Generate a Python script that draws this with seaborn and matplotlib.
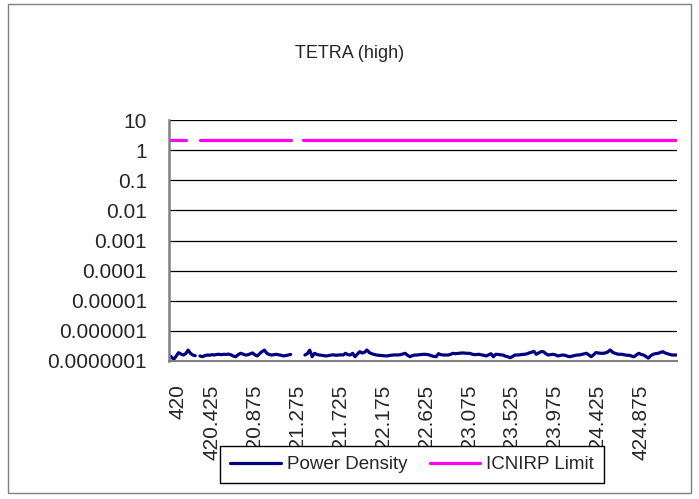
import numpy as np
import pandas as pd
import seaborn as sns
import matplotlib.pyplot as plt
from matplotlib.patches import Rectangle
from matplotlib.ticker import NullLocator

chart_title = 'TETRA (high)'

# frequency rows (MHz); '' marks the empty rows in the sheet
freq_a = np.round(np.arange(420.000, 420.2751, 0.025), 3)
freq_b = np.round(np.arange(420.300, 421.2501, 0.025), 3)
freq_c = np.round(np.arange(421.275, 425.2501, 0.025), 3)
freq_labels = ([f'{f:g}' for f in freq_a] + [''] + [f'{f:g}' for f in freq_b]
               + ['', ''] + [f'{f:g}' for f in freq_c])

nan = np.nan
# power density, units of 1e-7 W/m2
power_density_e7 = [
    1.58, 1.35, 1.14, 1.45, 1.89, 1.70, 1.58, 1.75, 2.30, 1.80, 1.58, 1.50,
    nan,
    1.47, 1.39, 1.50, 1.58, 1.55, 1.62, 1.58, 1.65, 1.67,
    1.62, 1.67, 1.65, 1.70, 1.60, 1.45, 1.39, 1.62, 1.80, 1.70,
    1.58, 1.60, 1.72, 1.85, 1.60, 1.47, 1.75, 2.05, 2.30, 1.80,
    1.65, 1.58, 1.62, 1.67, 1.60, 1.55, 1.47, 1.52, 1.58, 1.65,
    nan, nan, nan, nan, nan,
    1.58, 1.75, 2.30, 1.39, 1.80, 1.65, 1.58, 1.55, 1.50, 1.47,
    1.52, 1.58, 1.60, 1.55, 1.58, 1.60, 1.58, 1.80, 1.62, 1.58,
    1.80, 1.39, 1.70, 2.04, 1.85, 1.95, 2.32, 1.90, 1.75, 1.65,
    1.58, 1.55, 1.52, 1.50, 1.47, 1.50, 1.55, 1.58, 1.60, 1.58,
    1.62, 1.70, 1.80, 1.55, 1.39, 1.50, 1.58, 1.58, 1.62, 1.65,
    1.67, 1.65, 1.60, 1.50, 1.42, 1.39, 1.75, 1.62, 1.58, 1.58,
    1.58, 1.65, 1.80, 1.75, 1.78, 1.82, 1.85, 1.82, 1.80, 1.80,
    1.70, 1.62, 1.65, 1.67, 1.60, 1.55, 1.47, 1.60, 1.75, 1.39,
    1.67, 1.65, 1.60, 1.58, 1.45, 1.39, 1.29, 1.40, 1.58, 1.58,
    1.60, 1.65, 1.67, 1.72, 1.85, 1.95, 2.10, 1.67, 1.85, 2.04,
    2.04, 1.75, 1.58, 1.62, 1.67, 1.60, 1.47, 1.52, 1.58, 1.55,
    1.45, 1.39, 1.45, 1.52, 1.58, 1.58, 1.65, 1.72, 1.80, 1.60,
    1.39, 1.60, 1.90, 1.85, 1.80, 1.80, 1.85, 2.00, 2.32, 1.95,
    1.80, 1.70, 1.67, 1.67, 1.60, 1.55, 1.55, 1.45, 1.39, 1.60,
    1.80, 1.65, 1.58, 1.40, 1.25, 1.50, 1.67, 1.75, 1.80, 1.90,
    2.04, 1.85, 1.75, 1.65, 1.58, 1.58, 1.58,
]
icnirp_level = 2.1
icnirp_missing = [8, 9, 10, 11, 12, 52, 53, 54, 55]

y_tick_values = [10, 1, 0.1, 0.01, 0.001, 0.0001, 0.00001, 0.000001, 0.0000001]
y_tick_labels = ['10', '1', '0.1', '0.01', '0.001', '0.0001', '0.00001',
                 '0.000001', '0.0000001']

n = len(freq_labels)
power = np.array(power_density_e7) * 1e-7
limit = np.full(n, icnirp_level)
limit[icnirp_missing] = nan


def to_long(values, name):
    s = pd.Series(values)
    seg = s.isna().cumsum()
    d = pd.DataFrame({'idx': np.arange(n), 'value': s, 'segment': seg, 'series': name})
    return d.dropna(subset=['value'])


df = pd.concat([to_long(power, 'Power Density'), to_long(limit, 'ICNIRP Limit')],
               ignore_index=True)

sns.set_style('white')
plt.rcParams['font.family'] = ['Liberation Sans', 'DejaVu Sans']
plt.rcParams['font.size'] = 15

fig = plt.figure(figsize=(6.99, 4.99), dpi=100)
ax = fig.add_axes([169 / 699, 1 - 361 / 499, 508 / 699, 241 / 499])

colors = {'Power Density': '#000080', 'ICNIRP Limit': '#FF00FF'}
sns.lineplot(data=df, x='idx', y='value', hue='series', units='segment',
             estimator=None, palette=colors, linewidth=2.3, ax=ax, legend=False)

ax.set_yscale('log')
ax.set_ylim(1e-7, 10)
ax.set_yticks(y_tick_values, y_tick_labels)
ax.yaxis.set_minor_locator(NullLocator())
ax.set_xlim(0, n - 1)
label_pos = list(range(0, n, 18))
ax.set_xticks(label_pos, [freq_labels[i] for i in label_pos], rotation=90)
ax.set_xticks(range(n), minor=True)
ax.set_xlabel('')
ax.set_ylabel('')

ax.yaxis.grid(True, color='black', linewidth=0.9)
ax.set_axisbelow(True)
for side in ['top', 'right']:
    ax.spines[side].set_visible(False)
ax.spines['left'].set_color('#808080')
ax.spines['left'].set_linewidth(1.8)
ax.spines['bottom'].set_color('#808080')
ax.spines['bottom'].set_linewidth(1.5)

ax.tick_params(axis='y', which='major', direction='out', length=5, width=1,
               color='#808080', pad=11, labelsize=15)
ax.tick_params(axis='x', which='both', direction='out', length=4, width=0.8,
               color='#404040', pad=13, labelsize=15)
ax.get_xticklabels()[0].set_horizontalalignment('left')

handles = [plt.Line2D([], [], color=colors[k], linewidth=2.3) for k in colors]
leg = fig.legend(handles, list(colors), loc='center', ncol=2,
                 bbox_to_anchor=(412 / 699, 1 - 464.5 / 499),
                 frameon=True, fancybox=False, edgecolor='black', framealpha=1,
                 fontsize=13.5, handlelength=2.7, handletextpad=0.3,
                 columnspacing=1.2, borderpad=0.55)
leg.get_frame().set_linewidth(1.0)

fig.text(0.5, 1 - 53 / 499, chart_title, ha='center', va='center', fontsize=13)
fig.patches.append(Rectangle((8 / 699, 1 - 493 / 499), 683 / 699, 489 / 499,
                             transform=fig.transFigure, fill=False,
                             edgecolor='#808080', linewidth=1.0))

fig.savefig('out.png', dpi=100)
